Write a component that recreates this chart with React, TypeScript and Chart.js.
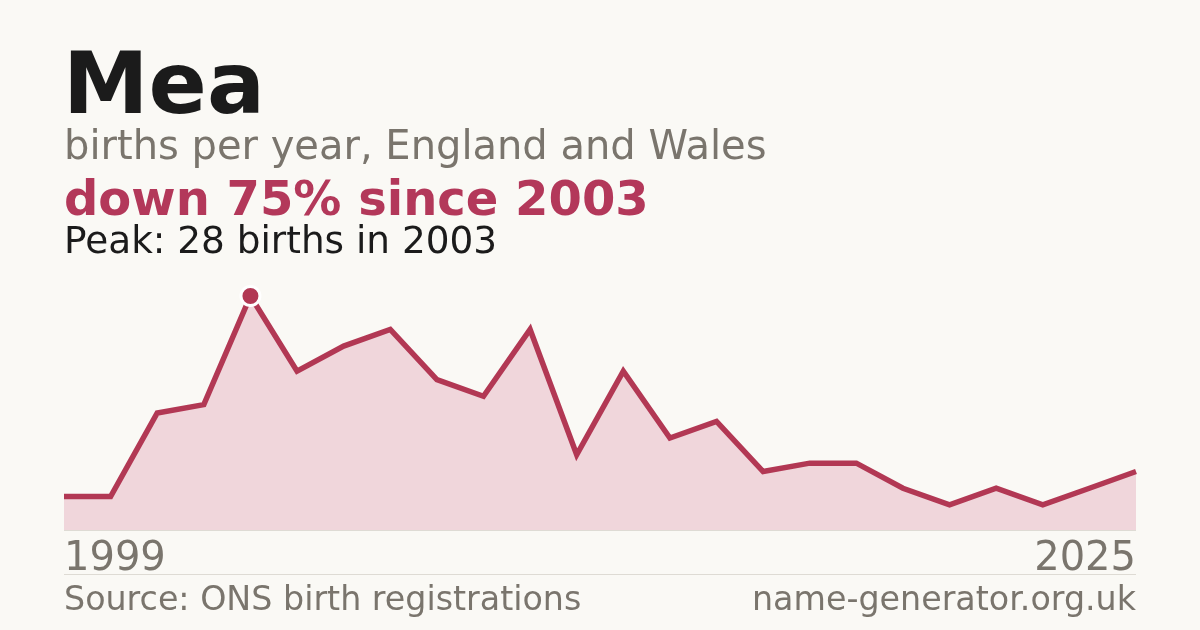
import React, { useEffect, useRef } from "react";
import { Chart, registerables } from "chart.js";

Chart.register(...registerables);

const years = [
  "1999", "2000", "2001", "2002", "2003", "2004", "2005", "2006",
  "2007", "2008", "2009", "2010", "2011", "2012", "2013", "2014",
  "2015", "2016", "2017", "2018", "2019", "2020", "2021", "2022",
];
const births = [4, 4, 14, 15, 28, 19, 22, 24, 18, 16, 24, 9, 19, 11, 13, 7, 8, 8, 5, 3, 5, 3, 5, 7];
const peakIndex = 4;
const startLabel = "1999";
const endLabel = "2025";

const titleText = "Mea";
const subtitleText = "births per year, England and Wales";
const changeText = "down 75% since 2003";
const peakText = "Peak: 28 births in 2003";
const sourceText = "Source: ONS birth registrations";
const siteText = "name-generator.org.uk";

const RED = "#b3385a";
const LINE = "#b23854";
const GREY = "#7a756d";
const FONT = "'DejaVu Sans', sans-serif";

// top = baseline - 0.846 * size for DejaVu Sans with line-height 1
function textStyle(size: number, baseline: number, extra: React.CSSProperties = {}): React.CSSProperties {
  return {
    position: "absolute",
    top: baseline - 0.846 * size,
    fontSize: size,
    lineHeight: `${size}px`,
    fontFamily: FONT,
    whiteSpace: "nowrap",
    margin: 0,
    ...extra,
  };
}

export default function App() {
  const ref = useRef<HTMLCanvasElement | null>(null);

  useEffect(() => {
    document.body.style.margin = "0";
    const canvas = ref.current;
    if (!canvas) return;
    const chart = new Chart(canvas, {
      type: "line",
      data: {
        labels: years,
        datasets: [
          {
            data: births,
            borderColor: LINE,
            borderWidth: 5.5,
            backgroundColor: "#f0d6db",
            fill: "origin",
            tension: 0,
            borderJoinStyle: "miter",
            pointRadius: births.map((_, i) => (i === peakIndex ? 9.5 : 0)),
            pointHoverRadius: births.map((_, i) => (i === peakIndex ? 9.5 : 0)),
            pointBackgroundColor: LINE,
            pointBorderColor: "#ffffff",
            pointBorderWidth: 3,
            clip: false as any,
          },
        ],
      },
      options: {
        responsive: false,
        animation: false,
        devicePixelRatio: 1,
        layout: { padding: { left: 64, right: 64, top: 296, bottom: 100 } },
        plugins: { legend: { display: false }, tooltip: { enabled: false } },
        scales: {
          x: { display: false, offset: false },
          y: { display: false, min: 0, max: 28 },
        },
        events: [],
      },
    });
    return () => chart.destroy();
  }, []);

  return (
    <div
      style={{
        position: "fixed",
        left: 0,
        top: 0,
        width: 1200,
        height: 630,
        background: "#faf9f5",
        overflow: "hidden",
      }}
    >
      <canvas ref={ref} width={1200} height={630} style={{ position: "absolute", left: 0, top: 0, width: 1200, height: 630 }} />
      <div style={{ position: "absolute", left: 64, top: 530, width: 1072, height: 1, background: "#dedbd4" }} />
      <div style={{ position: "absolute", left: 64, top: 574, width: 1072, height: 1, background: "#dedbd4" }} />
      <div style={textStyle(86, 113, { left: 63, fontWeight: 700, color: "#1b1b1b" })}>{titleText}</div>
      <div style={textStyle(40, 159, { left: 64, color: GREY })}>{subtitleText}</div>
      <div style={textStyle(48, 215, { left: 64, fontWeight: 700, color: RED })}>{changeText}</div>
      <div style={textStyle(37.4, 254, { left: 64, color: "#1b1b1b" })}>{peakText}</div>
      <div style={textStyle(40, 570, { left: 64, color: GREY })}>{startLabel}</div>
      <div style={textStyle(40, 570, { right: 64, color: GREY, textAlign: "right" })}>{endLabel}</div>
      <div style={textStyle(33.3, 610, { left: 64, color: GREY })}>{sourceText}</div>
      <div style={textStyle(33.3, 610, { right: 64, color: GREY, textAlign: "right" })}>{siteText}</div>
    </div>
  );
}
